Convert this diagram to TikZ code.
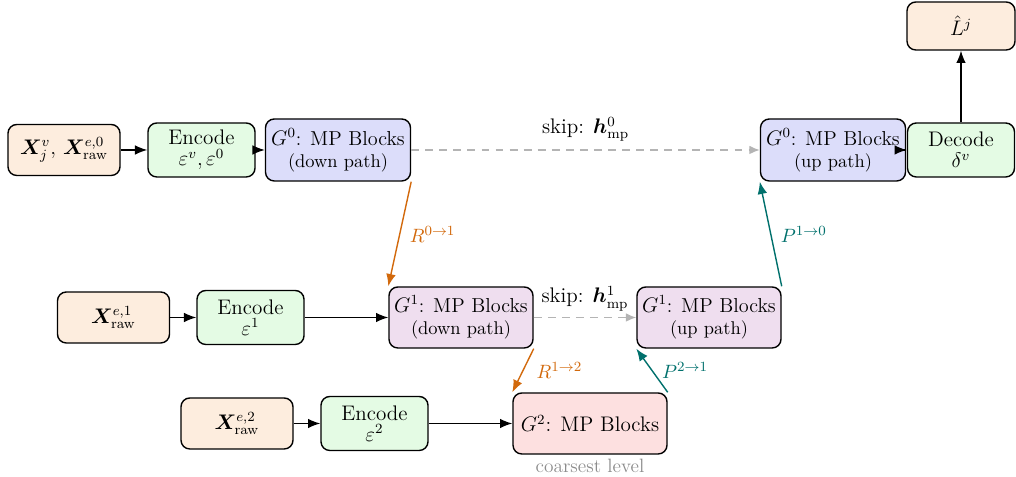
\documentclass[tikz,border=0pt]{standalone}
\usepackage{amsmath}
\usepackage{amssymb}
\usepackage{bm}
\usepackage{tikz}
\usetikzlibrary{positioning}
\usetikzlibrary{arrows.meta}
\definecolor{inputColor}{HTML}{FDEDDE}
\definecolor{encodeColor}{HTML}{E4FBE4}
\definecolor{levelZeroColor}{HTML}{DCDDFA}
\definecolor{levelOneColor}{HTML}{EFDEEF}
\definecolor{levelTwoColor}{HTML}{FDE0E0}
\definecolor{restrictColor}{HTML}{D2690C}
\definecolor{prolongColor}{HTML}{00706C}
\definecolor{skipColor}{HTML}{B4B4B4}

\begin{document}
\begin{tikzpicture}[font=\fontsize{12}{14}\selectfont]

          \tikzstyle{box} = [draw, thick, rounded corners=5pt, align=center, inner sep=2pt];
          \tikzstyle{inputNode} = [box, fill=inputColor, minimum width=2.24cm, minimum height=1.02cm];
          \tikzstyle{encodeNode} = [box, fill=encodeColor, minimum width=2.14cm, minimum height=1.08cm];
          \tikzstyle{levelNode} = [box, font=\fontsize{11.5}{13.5}\selectfont];
          \tikzstyle{levelZeroNode} = [levelNode, fill=levelZeroColor, minimum width=2.9cm, minimum height=1.24cm];
          \tikzstyle{levelOneNode} = [levelNode, fill=levelOneColor, minimum width=2.88cm, minimum height=1.22cm];
          \tikzstyle{levelTwoNode} = [levelNode, fill=levelTwoColor, minimum width=3.08cm, minimum height=1.22cm];
          \tikzstyle{pathLabel} = [font=\fontsize{11}{13}\selectfont];

          \tikzstyle{normalEdge} = [thick, -{Latex[length=7pt,width=5.5pt]}];
          \tikzstyle{restrictEdge} = [normalEdge, restrictColor];
          \tikzstyle{prolongEdge} = [normalEdge, prolongColor];
          \tikzstyle{skipEdge} = [thick, dash pattern=on 4.5pt off 3.5pt, -{Latex[length=6pt,width=5pt]}, skipColor];

          \useasboundingbox (0,0) rectangle (20.32,9.54);

          % level 0
          \node[inputNode] (inZero) at (1.28,6.54) {$\bm{X}_j^{v},\, \bm{X}^{e,0}_{\mathrm{raw}}$};
          \node[encodeNode] (encZero) at (4.03,6.54) {Encode\\[-2pt] $\varepsilon^{v},\varepsilon^{0}$};
          \node[levelZeroNode] (gZeroDown) at (6.76,6.54) {$G^0$: MP Blocks\\[-1pt] {\fontsize{10.5}{12.5}\selectfont (down path)}};
          \node[levelZeroNode] (gZeroUp) at (16.66,6.54) {$G^0$: MP Blocks\\[-1pt] {\fontsize{10.5}{12.5}\selectfont (up path)}};
          \node[encodeNode] (decode) at (19.22,6.54) {Decode\\[-2pt] $\delta^{v}$};
          \node[inputNode, minimum width=2.16cm, minimum height=0.96cm] (lHat) at (19.22,9.02) {$\hat{L}^{j}$};

          % level 1
          \node[inputNode] (inOne) at (2.27,3.19) {$\bm{X}^{e,1}_{\mathrm{raw}}$};
          \node[encodeNode] (encOne) at (5.01,3.19) {Encode\\[-2pt] $\varepsilon^{1}$};
          \node[levelOneNode] (gOneDown) at (9.22,3.19) {$G^1$: MP Blocks\\[-1pt] {\fontsize{10.5}{12.5}\selectfont (down path)}};
          \node[levelOneNode] (gOneUp) at (14.18,3.19) {$G^1$: MP Blocks\\[-1pt] {\fontsize{10.5}{12.5}\selectfont (up path)}};

          % level 2
          \node[inputNode] (inTwo) at (4.74,1.07) {$\bm{X}^{e,2}_{\mathrm{raw}}$};
          \node[encodeNode] (encTwo) at (7.49,1.07) {Encode\\[-2pt] $\varepsilon^{2}$};
          \node[levelTwoNode, font=\fontsize{12}{14}\selectfont] (gTwo) at (11.8,1.07) {$G^2$: MP Blocks};
          \node[black!45, pathLabel, below=-1pt of gTwo] (coarsest) {coarsest level};

          \draw[normalEdge] (inZero) -- (encZero);
          \draw[normalEdge] (encZero) -- (gZeroDown);
          \draw[normalEdge] (gZeroUp) -- (decode);
          \draw[normalEdge] (decode) -- (lHat);
          \draw[normalEdge] (inOne) -- (encOne);
          \draw[normalEdge] (encOne) -- (gOneDown);
          \draw[normalEdge] (inTwo) -- (encTwo);
          \draw[normalEdge] (encTwo) -- (gTwo);

          \draw[skipEdge] (gZeroDown) -- node[above=1pt, black] {skip: $\bm{h}^{0}_{\mathrm{mp}}$} (gZeroUp);
          \draw[skipEdge] (gOneDown) -- node[above=0pt, black] {skip: $\bm{h}^{1}_{\mathrm{mp}}$} (gOneUp);

          \draw[restrictEdge] (gZeroDown.south east) -- node[right=2pt, pathLabel] {$R^{0\rightarrow 1}$} (gOneDown.north west);
          \draw[restrictEdge] (gOneDown.south east) -- node[right=4pt, pathLabel] {$R^{1\rightarrow 2}$} (gTwo.north west);
          \draw[prolongEdge] (gTwo.north east) -- node[right=2pt, pathLabel] {$P^{2\rightarrow 1}$} (gOneUp.south west);
          \draw[prolongEdge] (gOneUp.north east) -- node[right=2pt, pathLabel] {$P^{1\rightarrow 0}$} (gZeroUp.south west);
        \end{tikzpicture}
\end{document}
